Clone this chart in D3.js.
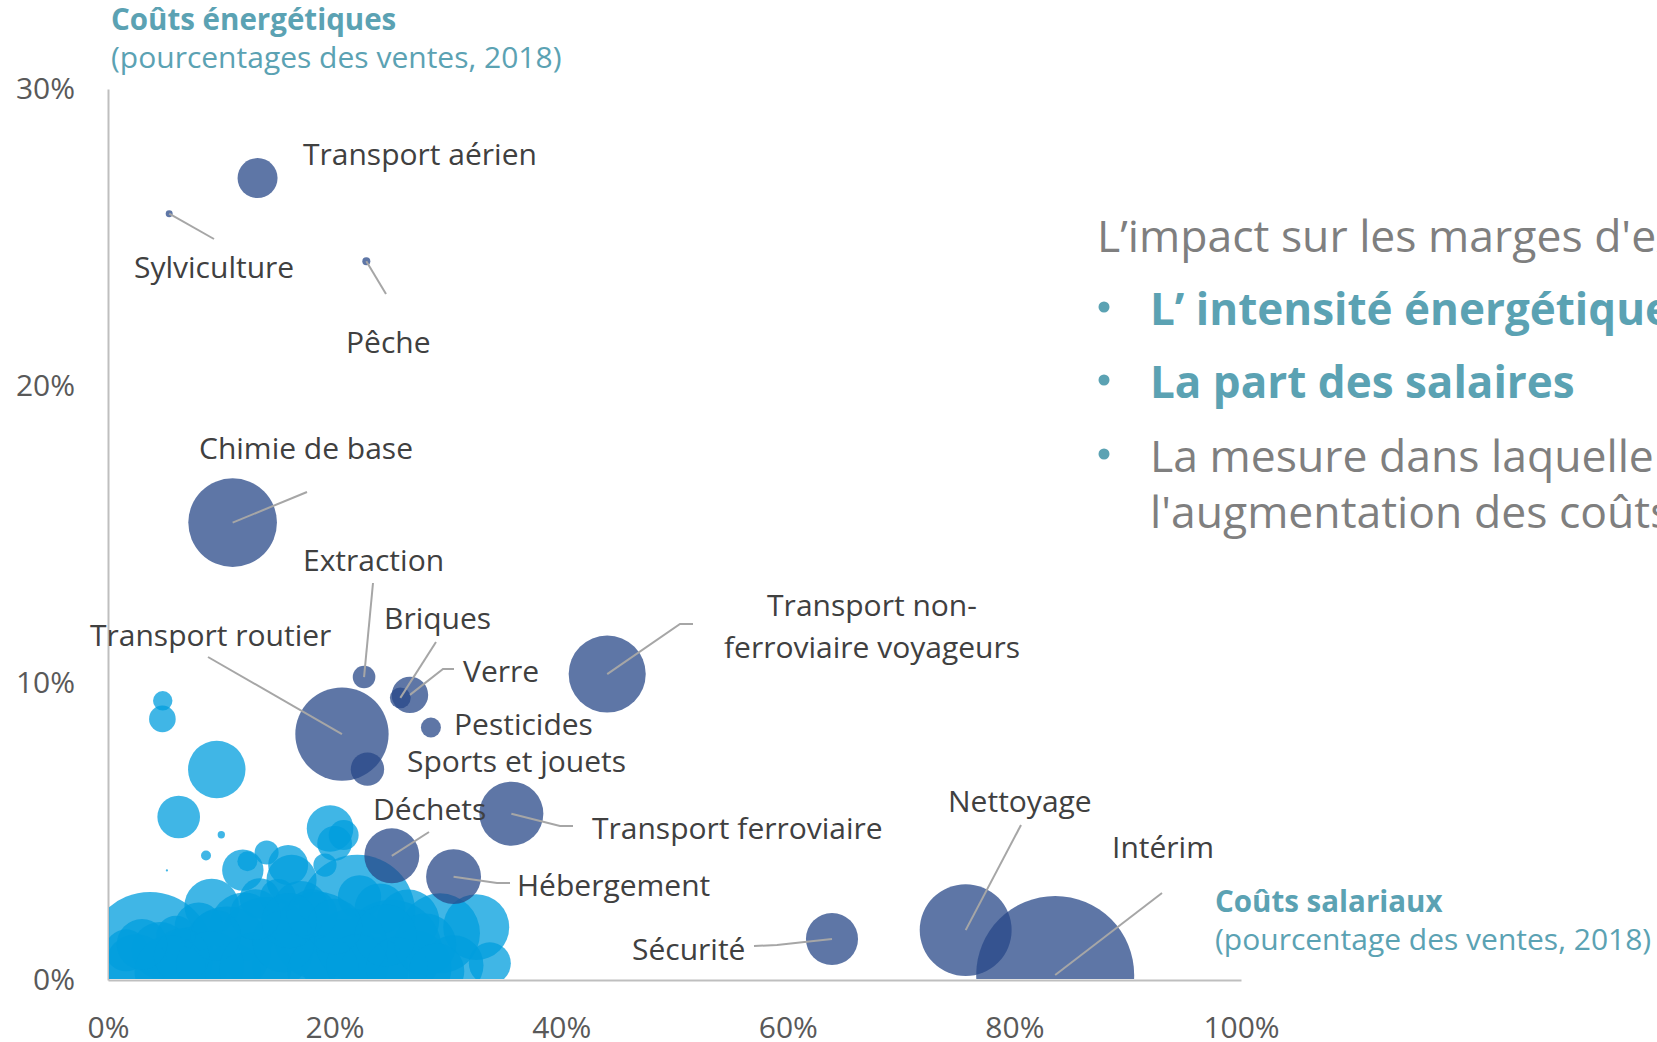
<!DOCTYPE html>
<html>
<head>
<meta charset="utf-8">
<script src="https://cdn.jsdelivr.net/npm/d3@7"></script>
<style>
  body { margin: 0; background: #fff; overflow: hidden; }
  svg { display: block; font-family: "Open Sans", sans-serif; }
</style>
</head>
<body>
<div id="chart"></div>
<script>
// Secteurs mis en avant (bulles bleu foncé)
const secteurs = ["Transport aérien", "Sylviculture", "Pêche", "Chimie de base", "Extraction",
  "Briques", "Verre", "Pesticides", "Transport routier", "Sports et jouets",
  "Transport non-ferroviaire voyageurs", "Transport ferroviaire", "Déchets", "Hébergement",
  "Sécurité", "Nettoyage", "Intérim"];
const coutsSalariaux = [13.2, 5.4, 22.8, 11.0, 22.6, 25.8, 26.65, 28.5, 20.65, 22.9, 44.06, 35.6, 25.05, 30.5, 63.9, 75.7, 83.6];
const coutsEnergetiques = [27.0, 25.8, 24.2, 15.4, 10.2, 9.5, 9.6, 8.5, 8.28, 7.1, 10.3, 5.6, 4.18, 3.48, 1.38, 1.68, 0.17];
const poids = [6.25, 0.19, 0.25, 30.7, 2.0, 1.7, 5.2, 1.56, 34, 4.35, 23.2, 16, 11.8, 11.8, 10.6, 33, 97.5];

// Autres secteurs (bulles cyan)
const autresSalariaux = [4.83, 4.8, 9.6, 6.24, 10.0, 8.65, 5.2, 19.6, 20.8, 20.0, 19.15, 11.9, 12.3, 14.0, 15.9, 16.2, 9.15,
  3.7, 4.6, 1.6, 4.3, 22.0, 13.4, 22.2, 29.3, 32.5, 33.7, 7.5, 10.5, 14.0, 16.5, 18.5, 12.0, 25.0, 27.0, 20.5, 17.0,
  26.5, 30.5, 23.5, 8.0, 15.0, 24.0, 11.0, 6.0,
  2.5, 5.5, 9.0, 13.0, 15.5, 19.0, 21.5, 22.0, 25.5, 28.0, 18.0, 13.0, 9.5, 6.5, 3.0, 29.0, 24.5, 20.0, 16.0];
const autresEnergetiques = [9.4, 8.79, 7.09, 5.49, 4.89, 4.19, 3.69, 5.1, 4.88, 4.6, 3.87, 3.7, 4.0, 4.29, 3.87, 3.37, 2.49,
  0.84, 1.0, 1.0, 0.7, 2.26, 2.75, 2.8, 1.57, 1.78, 0.56, 0.6, 1.0, 1.2, 0.5, 1.5, 1.8, 1.0, 0.4, 0.7, 2.4,
  2.0, 0.5, 0.3, 1.8, 2.8, 2.4, 0.3, 1.5,
  0.5, 0.3, 0.5, 0.4, 1.3, 0.3, 1.2, 0.5, 0.4, 1.2, 2.2, 2.2, 1.5, 0.8, 1.2, 0.3, 1.5, 1.8, 2.0];
const autresPoids = [1.47, 2.77, 12.9, 7.1, 0.21, 0.39, 0.02, 8.5, 3.5, 4.7, 2.1, 6.7, 1.56, 2.25, 6.25, 9.8, 11.6,
  62, 12.5, 6.9, 2.1, 52.6, 6.3, 7.3, 25, 17, 6.9, 20, 30, 35, 28, 30, 18, 40, 22, 25, 12,
  15, 14, 18, 9, 5, 10, 12, 6,
  15, 20, 18, 20, 15, 20, 20, 15, 15, 15, 10, 10, 10, 12, 10, 12, 15, 12, 12];

const xTicks = [0, 20, 40, 60, 80, 100];
const yTicks = [0, 10, 20, 30];

// Placement des étiquettes (pixels) et points des traits de rappel
const etiquettes = {
  "Transport aérien": {x: 303, y: 165, lignes: []},
  "Sylviculture": {x: 134, y: 278, lignes: [[214, 239]]},
  "Pêche": {x: 346, y: 353, lignes: [[386, 294]]},
  "Chimie de base": {x: 199, y: 459, lignes: [[307, 492]]},
  "Extraction": {x: 303, y: 571, lignes: [[373, 583]]},
  "Briques": {x: 384, y: 629, lignes: [[436, 642]]},
  "Verre": {x: 463, y: 682, lignes: [[443, 669], [454, 669]]},
  "Pesticides": {x: 454, y: 735, lignes: []},
  "Transport routier": {x: 90, y: 646, lignes: [[208, 657]]},
  "Sports et jouets": {x: 407, y: 772, lignes: []},
  "Transport non-ferroviaire voyageurs": {x: 872, y: 616, milieu: true, texte: ["Transport non-", "ferroviaire voyageurs"], lignes: [[680, 624], [693, 624]]},
  "Transport ferroviaire": {x: 592, y: 839, lignes: [[560, 826], [573, 826]]},
  "Déchets": {x: 373, y: 820, lignes: [[429, 832]]},
  "Hébergement": {x: 517, y: 896, lignes: [[497, 883], [510, 883]]},
  "Sécurité": {x: 632, y: 960, lignes: [[777, 945], [754, 946]]},
  "Nettoyage": {x: 948, y: 812, lignes: [[1021, 825]]},
  "Intérim": {x: 1112, y: 858, lignes: [[1162, 893]]}
};

const width = 1657, height = 1042;
const plot = {left: 108, right: 1241, top: 89, bottom: 980};
const teal = "#5ba2b3";

const svg = d3.select("#chart").append("svg")
  .attr("width", width)
  .attr("height", height);

const x = d3.scaleLinear().domain([0, 100]).range([plot.left, plot.right]);
const y = d3.scaleLinear().domain([0, 30]).range([plot.bottom, plot.top]);
const r = d3.scaleSqrt().domain([0, 100]).range([0, 80]);

// Axes
const xAxis = svg.append("g")
  .attr("transform", `translate(0,${plot.bottom})`)
  .call(d3.axisBottom(x).tickValues(xTicks).tickFormat(d => d + "%").tickSize(0).tickPadding(37));
const yAxis = svg.append("g")
  .attr("transform", `translate(${plot.left},0)`)
  .call(d3.axisLeft(y).tickValues(yTicks).tickFormat(d => d + "%").tickSize(0).tickPadding(33));
[xAxis, yAxis].forEach(a => {
  a.select(".domain").attr("stroke", "#bfbfbf").attr("stroke-width", 2);
  a.selectAll("text").attr("fill", "#595959").style("font-size", "30px").style("font-family", "Open Sans, sans-serif");
});

// Zone de tracé découpée
svg.append("clipPath").attr("id", "zone")
  .append("rect")
  .attr("x", plot.left + 1).attr("y", 0)
  .attr("width", plot.right - plot.left).attr("height", plot.bottom - 1);

const bulles = svg.append("g").attr("clip-path", "url(#zone)");

const autres = autresSalariaux.map((v, i) => ({x: v, y: autresEnergetiques[i], p: autresPoids[i]}));
const principaux = secteurs.map((s, i) => ({nom: s, x: coutsSalariaux[i], y: coutsEnergetiques[i], p: poids[i]}));

bulles.selectAll("circle.autre")
  .data(autres)
  .enter()
  .append("circle")
  .attr("class", "autre")
  .attr("cx", d => x(d.x))
  .attr("cy", d => y(d.y))
  .attr("r", d => r(d.p))
  .attr("fill", "#009ddd")
  .attr("fill-opacity", 0.75);

bulles.selectAll("circle.secteur")
  .data(principaux)
  .enter()
  .append("circle")
  .attr("class", "secteur")
  .attr("cx", d => x(d.x))
  .attr("cy", d => y(d.y))
  .attr("r", d => r(d.p))
  .attr("fill", "#284888")
  .attr("fill-opacity", 0.75);

// Traits de rappel
const line = d3.line();
svg.append("g").selectAll("path")
  .data(principaux.filter(d => etiquettes[d.nom].lignes.length))
  .enter()
  .append("path")
  .attr("d", d => line([[x(d.x), y(d.y)]].concat(etiquettes[d.nom].lignes)))
  .attr("fill", "none")
  .attr("stroke", "#a6a6a6")
  .attr("stroke-width", 2);

// Étiquettes
const labels = svg.append("g")
  .style("font-size", "30px")
  .attr("fill", "#404040");
principaux.forEach(d => {
  const e = etiquettes[d.nom];
  const t = labels.append("text")
    .attr("x", e.x)
    .attr("y", e.y)
    .attr("text-anchor", e.milieu ? "middle" : "start");
  if (e.texte) {
    e.texte.forEach((l, i) => t.append("tspan").attr("x", e.x).attr("y", e.y + i * 42).text(l));
  } else {
    t.text(d.nom);
  }
});

// Titres des axes
svg.append("text").attr("x", 111).attr("y", 30)
  .attr("fill", teal).style("font-size", "29.5px").style("font-weight", "bold")
  .text("Coûts énergétiques");
svg.append("text").attr("x", 111).attr("y", 68)
  .attr("fill", teal).style("font-size", "30px")
  .text("(pourcentages des ventes, 2018)");
svg.append("text").attr("x", 1215).attr("y", 912)
  .attr("fill", teal).style("font-size", "29.5px").style("font-weight", "bold")
  .text("Coûts salariaux");
svg.append("text").attr("x", 1215).attr("y", 950)
  .attr("fill", teal).style("font-size", "30px")
  .text("(pourcentage des ventes, 2018)");

// Encadré de texte à droite
const bloc = svg.append("g").style("font-size", "44.5px");
bloc.append("text").attr("x", 1097).attr("y", 252).attr("fill", "#7f7f7f")
  .text("L’impact sur les marges d'exploitation dépend de :");
const puces = [
  {y: 325, texte: ["L’ intensité énergétique"], gras: true},
  {y: 398, texte: ["La part des salaires"], gras: true},
  {y: 472, texte: ["La mesure dans laquelle les entreprises peuvent répercuter", "l'augmentation des coûts sur leurs prix"], gras: false}
];
puces.forEach(p => {
  bloc.append("circle").attr("cx", 1104).attr("cy", p.y - 18).attr("r", 5.5).attr("fill", teal);
  p.texte.forEach((l, i) => {
    bloc.append("text")
      .attr("x", 1150)
      .attr("y", p.y + i * 56)
      .attr("fill", p.gras ? teal : "#7f7f7f")
      .style("font-weight", p.gras ? "bold" : "normal")
      .style("font-size", p.gras ? "44px" : null)
      .text(l);
  });
});
</script>
</body>
</html>
